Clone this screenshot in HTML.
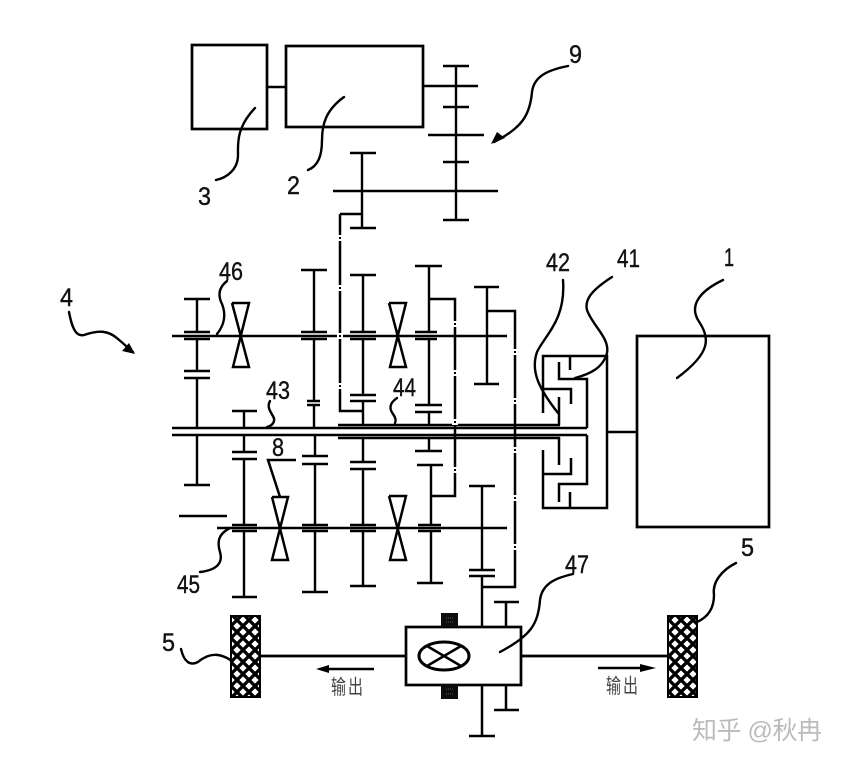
<!DOCTYPE html>
<html><head><meta charset="utf-8">
<style>
html,body{margin:0;padding:0;background:#fff;width:844px;height:764px;overflow:hidden}
svg{display:block}
text{font-family:"Liberation Sans","Noto Sans CJK SC",sans-serif;fill:#111}
</style></head>
<body>
<svg width="844" height="764" viewBox="0 0 844 764" xmlns="http://www.w3.org/2000/svg">
<defs>
<pattern id="h" width="12" height="12" patternUnits="userSpaceOnUse" patternTransform="translate(3 2)">
<rect width="12" height="12" fill="#fff"/>
<path d="M-3 3L3 -3M-3 15L15 -3M9 15L15 9M-3 9L3 15M-3 -3L15 15M9 -3L15 3" stroke="#000" stroke-width="3.3" fill="none"/>
</pattern>
</defs>
<rect width="844" height="764" fill="#fff"/>

<g fill="none" stroke="#000" stroke-width="2.4">
<!-- top boxes -->
<rect x="192" y="45" width="75" height="84" stroke-width="2.7"/>
<rect x="286" y="46" width="137" height="81" stroke-width="2.7"/>
<path d="M267 87H286M423 86H478"/>
<path d="M456 66V220M443 66H469M443 107H469M428 135H484M443 162H469M443 220H469"/>
<path d="M333 191H498"/>
<path d="M362 153V228M350 153H376M350 228H376"/>

<!-- box 1 -->
<rect x="637" y="336" width="132" height="191" stroke-width="2.7"/>
<path d="M607 432H637"/>

<!-- shafts -->
<path d="M172 336H507" stroke-width="2.5"/>
<path d="M172 428H338M172 435H338" stroke-width="2.5"/>
<path d="M217 528H507" stroke-width="2.5"/>
<path d="M338 425H560M338 428H587M338 435H587M338 438H560" stroke-width="2.5"/>

<!-- gear x197 -->
<path d="M197 299V332M197 339V371M197 378V428M184 299H210M184 332H210M184 339H210M184 371H210M184 378H210"/>
<path d="M197 435V485M184 485H210M179 516H227"/>

<!-- gear x244 -->
<path d="M244 411V428M232 411H257M244 435V452M244 459V525M244 531V597M232 452H257M232 459H257M232 525H257M232 531H257M232 597H257"/>

<!-- gear x314 -->
<path d="M314 270V332M314 339V401M314 405V428M301 270H327M301 332H327M301 339H327M307 401H320M307 405H320"/>
<path d="M315 435V456M315 464V525M315 531V592M302 456H328M302 464H328M302 525H328M302 531H328M302 592H328"/>

<!-- gear x363 -->
<path d="M363 275V332M363 339V395M363 401V425M350 275H376M350 332H376M350 339H376M350 395H376M350 401H376"/>
<path d="M363 438V462M363 469V525M363 531V586M350 462H376M350 469H376M350 525H376M350 531H376M350 586H376"/>

<!-- gear x429 -->
<path d="M429 266V332M429 339V405M429 412V425M415 266H442M415 332H437M415 339H437M415 405H442M415 412H442"/>
<path d="M429 438V451M415 451H442M431 465V525M431 531V583M417 465H443M418 525H441M418 531H441M417 583H443"/>

<!-- gear x487 -->
<path d="M487 287V384M474 287H499M474 384H499"/>

<!-- gear x482 -->
<path d="M482 486V570M482 576V627M469 486H495M469 570H495M469 576H495"/>

<!-- connecting lines with breaks -->
<path d="M340 214V411H363M340 214H362" stroke-width="2.5"/>
<path d="M429 299H455V496H431" stroke-width="2.5"/>
<path d="M487 311H515V587H482" stroke-width="2.5"/>
</g>

<!-- breaks -->
<g fill="#fff">
<rect x="337" y="235" width="6" height="6"/><rect x="337" y="285" width="6" height="6"/><rect x="337" y="333" width="6" height="6"/><rect x="337" y="383" width="6" height="6"/>
<rect x="452" y="321" width="6" height="6"/><rect x="452" y="370" width="6" height="6"/><rect x="452" y="419" width="6" height="6"/><rect x="452" y="467" width="6" height="6"/>
<rect x="512" y="349" width="6" height="6"/><rect x="512" y="398" width="6" height="6"/><rect x="512" y="447" width="6" height="6"/><rect x="512" y="495" width="6" height="6"/><rect x="512" y="544" width="6" height="6"/>
</g>
<g fill="#000">
<rect x="339" y="237" width="2" height="2"/><rect x="339" y="287" width="2" height="2"/><rect x="339" y="335" width="2" height="2"/><rect x="339" y="385" width="2" height="2"/>
<rect x="454" y="323" width="2" height="2"/><rect x="454" y="372" width="2" height="2"/><rect x="454" y="421" width="2" height="2"/><rect x="454" y="469" width="2" height="2"/>
<rect x="514" y="351" width="2" height="2"/><rect x="514" y="400" width="2" height="2"/><rect x="514" y="449" width="2" height="2"/><rect x="514" y="497" width="2" height="2"/><rect x="514" y="546" width="2" height="2"/>
</g>

<g fill="none" stroke="#000" stroke-width="2.5">
<!-- synchronisers -->
<path d="M232 303H249L233 367H249L232 303M249 303L233 367"/>
<path d="M389 303H406L390 367H406L389 303M406 303L390 367"/>
<path d="M272 497H288L272 560H288L272 497M288 497L272 560"/>
<path d="M389 496H406L390 560H406L389 496M406 496L390 560"/>
<path d="M296 460H268L280 497"/>

<!-- clutches -->
<path d="M559 425V397M587 428V379H559V362M543 413V356H607V508H543V450M570 356V370M543 389H571V404"/>
<path d="M559 437V465M543 474H571V458M587 435V484H559V502M570 492V508"/>

<!-- differential -->
<rect x="406" y="627" width="115" height="58" stroke-width="2.7"/>
<ellipse cx="444" cy="656" rx="25" ry="14" stroke-width="3"/>
<path d="M427 646L461 666M427 666L461 646"/>
<path d="M482 685V736M469 736H495M506 602V627M494 602H519M506 685V710M494 710H519"/>
<path d="M260 656H406M521 656H668" stroke-width="2.7"/>
<path d="M374 669H326M598 668H645"/>

<!-- leaders -->
<g stroke-linecap="round" stroke-width="2.4">
<path d="M255 108C236 128 238 144 238 155C238 170 226 178 216 180"/>
<path d="M344 97C326 110 322 124 322 140C322 156 318 166 308 170"/>
<path d="M568 66C548 70 534 76 532 92C530 115 522 128 494 142"/>
<path d="M227 281C218 288 218 296 222 304C226 314 225 324 217 334"/>
<path d="M270 401C265 410 276 416 274 421C273 425 270 426 267 427"/>
<path d="M397 398C388 404 390 410 393 414C396 418 396 421 395 423"/>
<path d="M563 280C566 320 545 335 537 352C530 372 540 390 558 413"/>
<path d="M612 277C595 288 584 298 587 310C592 325 610 338 607 353C603 368 590 374 575 378"/>
<path d="M230 528C218 534 217 542 220 552C223 562 218 570 200 572"/>
<path d="M573 574C555 578 542 584 540 600C538 625 530 636 500 652"/>
<path d="M181 649C184 662 190 666 198 662C210 652 222 652 237 665"/>
<path d="M736 563C722 570 712 582 714 595C714 610 706 618 697 622"/>
<path d="M723 280C698 292 690 306 698 320C710 338 712 352 677 378"/>
<path d="M69 312C72 328 76 337 84 335C98 330 108 330 118 339C124 344 128 348 133 352"/>
</g>
</g>

<!-- arrowheads -->
<path d="M491 144L505 138L497 132Z" fill="#000"/>
<path d="M135 354L122 351L129 343Z" fill="#000"/>
<path d="M316 669L329 665V673Z" fill="#000"/>
<path d="M656 668L640 664V672Z" fill="#000"/>

<!-- wheels -->
<rect x="231" y="616" width="29" height="81" fill="url(#h)" stroke="#000" stroke-width="2"/>
<rect x="668" y="616" width="29" height="81" fill="url(#h)" stroke="#000" stroke-width="2"/>

<!-- blocks -->
<rect x="441" y="613" width="17" height="14" fill="#0c0c0c"/>
<rect x="441" y="684" width="17" height="15" fill="#0c0c0c"/>
<path d="M446 618h8M446 622h8M446 689h8M446 694h8" stroke="#555" stroke-width="1" stroke-dasharray="1 1"/>

<!-- labels -->
<g font-size="25" stroke="#111" stroke-width="0.4">
<text x="198" y="205" textLength="13" lengthAdjust="spacingAndGlyphs">3</text>
<text x="287" y="194" textLength="13" lengthAdjust="spacingAndGlyphs">2</text>
<text x="569" y="63" textLength="13" lengthAdjust="spacingAndGlyphs">9</text>
<text x="60" y="306" textLength="13" lengthAdjust="spacingAndGlyphs">4</text>
<text x="724" y="266" textLength="10" lengthAdjust="spacingAndGlyphs">1</text>
<text x="219" y="280" textLength="24" lengthAdjust="spacingAndGlyphs">46</text>
<text x="266" y="399" textLength="24" lengthAdjust="spacingAndGlyphs">43</text>
<text x="393" y="396" textLength="23" lengthAdjust="spacingAndGlyphs">44</text>
<text x="272" y="456" textLength="12" lengthAdjust="spacingAndGlyphs">8</text>
<text x="177" y="593" textLength="23" lengthAdjust="spacingAndGlyphs">45</text>
<text x="546" y="271" textLength="24" lengthAdjust="spacingAndGlyphs">42</text>
<text x="617" y="267" textLength="23" lengthAdjust="spacingAndGlyphs">41</text>
<text x="565" y="573" textLength="24" lengthAdjust="spacingAndGlyphs">47</text>
<text x="162" y="651" textLength="13" lengthAdjust="spacingAndGlyphs">5</text>
<text x="741" y="556" textLength="13" lengthAdjust="spacingAndGlyphs">5</text>
</g>
<text transform="translate(331 694) scale(1 1.35)" font-size="15" textLength="32" style="fill:#444">输出</text>
<text transform="translate(606 693) scale(1 1.35)" font-size="15" textLength="32" style="fill:#444">输出</text>
<text x="692" y="739" font-size="25" style="fill:#bbb" textLength="130">知乎 @秋冉</text>
</svg>
</body></html>
